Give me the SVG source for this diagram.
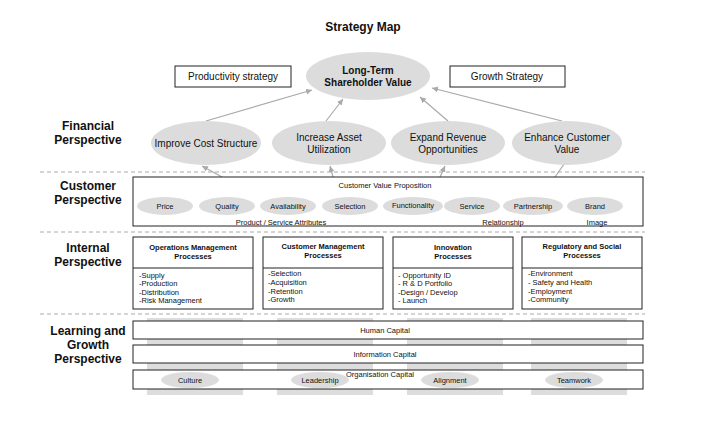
<svg xmlns="http://www.w3.org/2000/svg" width="722" height="428" viewBox="0 0 722 428">
<style>
text{font-family:"Liberation Sans",Arial,sans-serif;fill:#111;text-anchor:middle}
.h{font-weight:bold;font-size:12px}
.t{font-size:10px}
.s{font-size:7.5px}
.sh{font-size:7.5px;font-weight:bold}
.l{font-size:7.5px;text-anchor:start}
.e{fill:#dcdcdc;stroke:none}
.b{fill:#fff;stroke:#222;stroke-width:1}
.d{stroke:#aaa;stroke-dasharray:4 3;stroke-width:1}
.a{stroke:#aaa;stroke-width:1.2;fill:none;marker-end:url(#ar)}
.p{fill:#ddd}
</style>
<defs><marker id="ar" markerWidth="8" markerHeight="8" refX="6" refY="3" orient="auto" markerUnits="userSpaceOnUse"><path d="M0,0 L6,3 L0,6 Z" fill="#aaa"/></marker></defs>
<rect width="722" height="428" fill="#fff"/>
<text class="h" x="363" y="31">Strategy Map</text>
<g id="dividers"><line class="d" x1="40" y1="172" x2="645" y2="172"/><line class="d" x1="40" y1="232" x2="645" y2="232"/><line class="d" x1="40" y1="314" x2="645" y2="314"/></g>
<g id="labels">
<text class="h" x="88" y="130">Financial</text><text class="h" x="88" y="144">Perspective</text>
<text class="h" x="88" y="190">Customer</text><text class="h" x="88" y="204">Perspective</text>
<text class="h" x="88" y="252">Internal</text><text class="h" x="88" y="266">Perspective</text>
<text class="h" x="88" y="335">Learning and</text><text class="h" x="88" y="349">Growth</text><text class="h" x="88" y="363">Perspective</text>
</g>
<g id="pillars"><rect class="p" x="147" y="318" width="96" height="77"/><rect class="p" x="277" y="318" width="96" height="77"/><rect class="p" x="407" y="318" width="96" height="77"/><rect class="p" x="531" y="318" width="96" height="77"/></g>
<g id="connectors">
<line class="a" x1="206" y1="121" x2="312" y2="90"/>
<line class="a" x1="326" y1="121" x2="343" y2="99"/>
<line class="a" x1="448" y1="121" x2="420" y2="97"/>
<line class="a" x1="562" y1="121" x2="432" y2="88"/>
<line class="a" x1="222" y1="177" x2="202" y2="166"/>
<line class="a" x1="333" y1="177" x2="330" y2="166"/>
<line class="a" x1="440" y1="177" x2="445" y2="166"/>
<line class="a" x1="555" y1="177" x2="569" y2="157"/>
</g>
<g id="productivity"><rect class="b" x="175" y="66" width="116" height="21"/><text class="t" x="233" y="80">Productivity strategy</text></g>
<g id="growth"><rect class="b" x="450" y="66" width="115" height="21"/><text class="t" x="507" y="80">Growth Strategy</text></g>
<g id="ltsv"><ellipse class="e" cx="368" cy="76" rx="62" ry="24"/><text class="sh" style="font-size:10px" x="368" y="74">Long-Term</text><text class="sh" style="font-size:10px" x="368" y="86">Shareholder Value</text></g>
<g id="cost"><ellipse class="e" cx="206" cy="143" rx="55" ry="22"/><text class="t" x="206" y="147">Improve Cost Structure</text></g>
<g id="asset"><ellipse class="e" cx="329" cy="143" rx="57" ry="22"/><text class="t" x="329" y="141">Increase Asset</text><text class="t" x="329" y="153">Utilization</text></g>
<g id="revenue"><ellipse class="e" cx="448" cy="143" rx="57" ry="22"/><text class="t" x="448" y="141">Expand Revenue</text><text class="t" x="448" y="153">Opportunities</text></g>
<g id="enhance"><ellipse class="e" cx="567" cy="143" rx="55" ry="22"/><text class="t" x="567" y="141">Enhance Customer</text><text class="t" x="567" y="153">Value</text></g>
<g id="customer"><rect class="b" x="133" y="177" width="510" height="49"/>
<text class="s" x="385" y="188">Customer Value Proposition</text>
<ellipse class="e" cx="165" cy="206" rx="28" ry="9"/><text class="s" x="165" y="209">Price</text>
<ellipse class="e" cx="227" cy="206" rx="28" ry="9"/><text class="s" x="227" y="209">Quality</text>
<ellipse class="e" cx="288" cy="206" rx="28" ry="9"/><text class="s" x="288" y="209">Availability</text>
<ellipse class="e" cx="350" cy="206" rx="28" ry="9"/><text class="s" x="350" y="209">Selection</text>
<ellipse class="e" cx="413" cy="206" rx="30" ry="9"/><text class="s" x="413" y="208">Functionality</text>
<ellipse class="e" cx="472" cy="206" rx="28" ry="9"/><text class="s" x="472" y="209">Service</text>
<ellipse class="e" cx="533" cy="206" rx="30" ry="9"/><text class="s" x="533" y="209">Partnership</text>
<ellipse class="e" cx="595" cy="206" rx="28" ry="9"/><text class="s" x="595" y="209">Brand</text>
<text class="s" x="281" y="225">Product / Service Attributes</text><text class="s" x="503" y="225">Relationship</text><text class="s" x="597" y="225">Image</text></g>
<g id="ops"><rect class="b" x="133" y="237" width="120" height="72"/><line x1="133" y1="268" x2="253" y2="268" stroke="#222"/>
<text class="sh" x="193" y="250">Operations Management</text><text class="sh" x="193" y="259">Processes</text>
<text class="l" x="139" y="278">-Supply</text><text class="l" x="139" y="286">-Production</text><text class="l" x="139" y="295">-Distribution</text><text class="l" x="139" y="303">-Risk Management</text></g>
<g id="cm"><rect class="b" x="263" y="237" width="120" height="72"/><line x1="263" y1="268" x2="383" y2="268" stroke="#222"/>
<text class="sh" x="323" y="249">Customer Management</text><text class="sh" x="323" y="258">Processes</text>
<text class="l" x="268" y="276">-Selection</text><text class="l" x="268" y="285">-Acquisition</text><text class="l" x="268" y="294">-Retention</text><text class="l" x="268" y="302">-Growth</text></g>
<g id="inn"><rect class="b" x="393" y="237" width="120" height="72"/><line x1="393" y1="268" x2="513" y2="268" stroke="#222"/>
<text class="sh" x="453" y="250">Innovation</text><text class="sh" x="453" y="259">Processes</text>
<text class="l" x="398" y="278">- Opportunity ID</text><text class="l" x="398" y="286">- R &amp; D Portfolio</text><text class="l" x="398" y="295">-Design / Develop</text><text class="l" x="398" y="303">- Launch</text></g>
<g id="reg"><rect class="b" x="522" y="237" width="120" height="72"/><line x1="522" y1="268" x2="642" y2="268" stroke="#222"/>
<text class="sh" x="582" y="249">Regulatory and Social</text><text class="sh" x="582" y="258">Processes</text>
<text class="l" x="528" y="276">-Environment</text><text class="l" x="528" y="285">- Safety and Health</text><text class="l" x="528" y="294">-Employment</text><text class="l" x="528" y="302">-Community</text></g>
<g id="human"><rect class="b" x="133" y="321" width="510" height="18"/><text class="s" x="385" y="333">Human Capital</text></g>
<g id="info"><rect class="b" x="133" y="345" width="510" height="18"/><text class="s" x="385" y="357">Information Capital</text></g>
<g id="org"><rect class="b" x="133" y="370" width="510" height="19"/><text class="s" x="380" y="377">Organisation Capital</text>
<ellipse class="e" cx="190" cy="380" rx="29" ry="8"/><text class="s" x="190" y="383">Culture</text>
<ellipse class="e" cx="320" cy="380" rx="29" ry="8"/><text class="s" x="320" y="383">Leadership</text>
<ellipse class="e" cx="450" cy="380" rx="29" ry="8"/><text class="s" x="450" y="383">Alignment</text>
<ellipse class="e" cx="574" cy="380" rx="29" ry="8"/><text class="s" x="574" y="383">Teamwork</text></g>
</svg>
